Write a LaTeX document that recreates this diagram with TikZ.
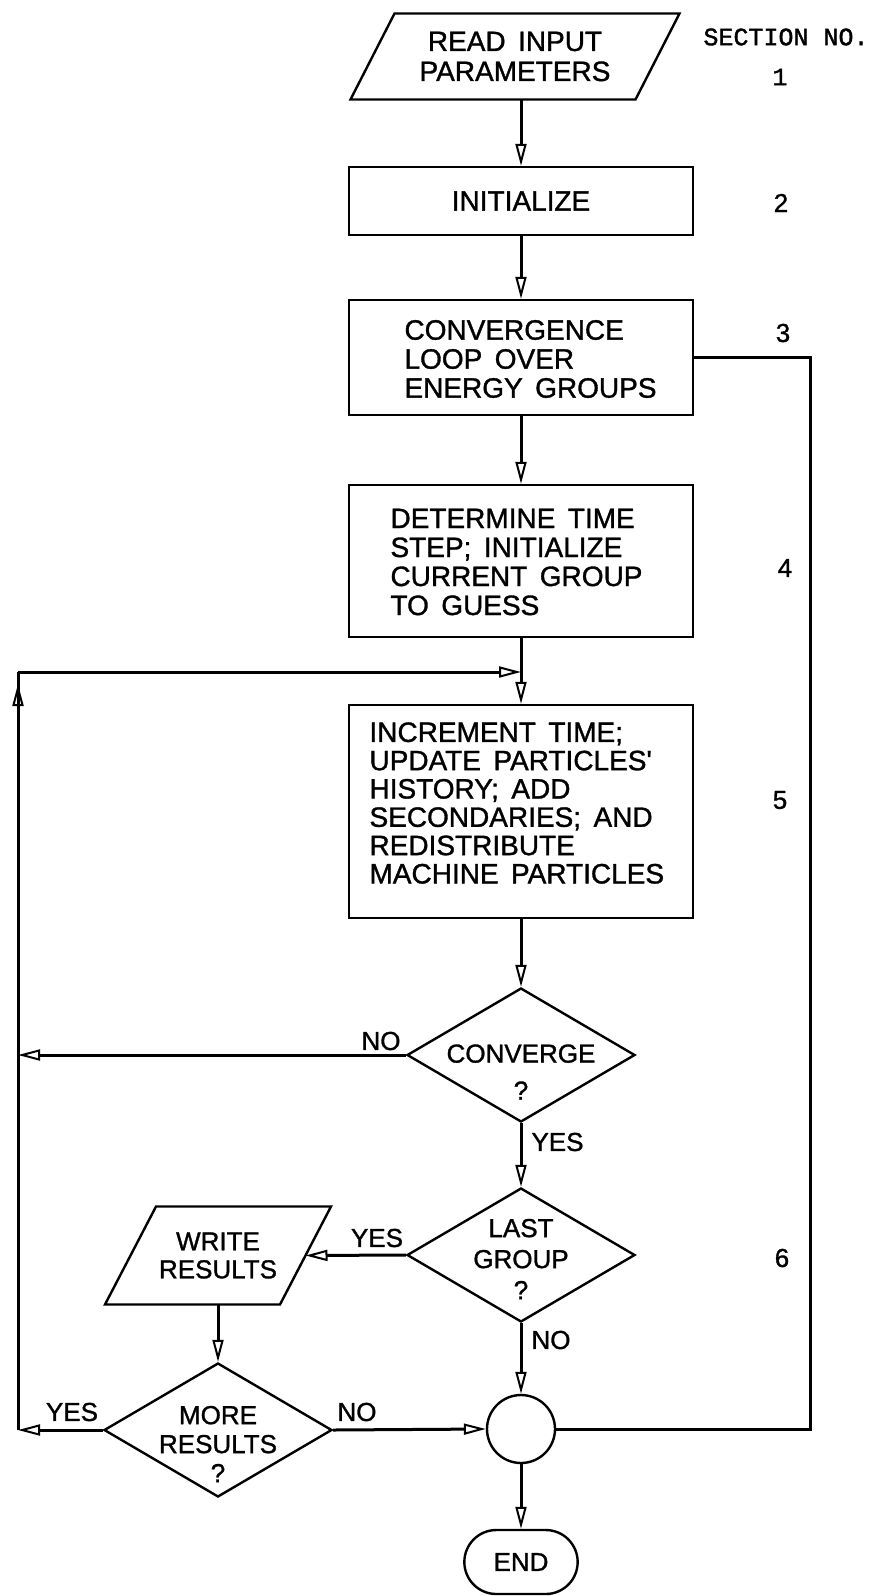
\documentclass[tikz,border=0pt]{standalone}
\usepackage{fontspec}
\setmainfont[WordSpace=1.6,FakeBold=1.2]{Liberation Sans}
\newfontfamily\twfont[FakeBold=1.5]{Liberation Mono}
\usetikzlibrary{arrows.meta,shapes.geometric,shapes.misc}
\begin{document}
\begin{tikzpicture}[x=1pt,y=-1pt,
  line width=3pt,
  arr/.style={-{Triangle[open,length=22pt,width=11pt,line width=2pt]}},
  box/.style={draw, line width=2.4pt, rectangle, minimum width=344pt, inner sep=0pt, font=\fontsize{28}{29}\selectfont},
  txt/.style={font=\fontsize{28}{29}\selectfont, align=left, inner sep=0pt},
  ctxt/.style={align=center, inner sep=0pt},
  dia/.style={draw, line width=2.4pt, diamond, minimum width=228pt, minimum height=134pt, inner sep=0pt},
  lbl/.style={font=\fontsize{26}{26}\selectfont, inner sep=0pt},
  secn/.style={font=\fontsize{26}{26}\selectfont, inner sep=0pt},
  shp/.style={line width=2.4pt},
]
\useasboundingbox (0,0) rectangle (886,1596);

% section labels
\node[font=\twfont\fontsize{25}{25}\selectfont, inner sep=0pt] (secno) at (786,37) {SECTION NO.};
\node[font=\twfont\fontsize{25}{25}\selectfont, inner sep=0pt] (sec1) at (780,77) {1};
\node[secn] (sec2) at (781,203) {2};
\node[secn] (sec3) at (783,333) {3};
\node[secn] (sec4) at (785,568) {4};
\node[secn] (sec5) at (780,800) {5};
\node[secn] (sec6) at (782,1258) {6};

% read input
\node[minimum width=282pt, minimum height=83pt, inner sep=0pt, align=center,
      font=\fontsize{28}{30}\selectfont] (read) at (515,56.5) {READ INPUT\\PARAMETERS};
\draw[shp] ([xshift=22pt]read.north west) -- ([xshift=22pt]read.north east)
  -- ([xshift=-22pt]read.south east) -- ([xshift=-22pt]read.south west) -- cycle;

% boxes
\node[box, minimum height=68pt] (init) at (521,201) {INITIALIZE};
\node[box, minimum height=115pt] (conv) at (521,357.5) {};
\node[txt, anchor=west] (convt) at (403,359) {CONVERGENCE\\LOOP OVER\\ENERGY GROUPS};
\node[box, minimum height=152pt] (det) at (521,561) {};
\node[txt, anchor=west] (dett) at (389,562) {DETERMINE TIME\\STEP; INITIALIZE\\CURRENT GROUP\\TO GUESS};
\node[box, minimum height=213pt] (inc) at (521,811.5) {};
\node[txt, anchor=west, font=\fontsize{28}{28.3}\selectfont] (inct) at (368,803) {INCREMENT TIME;\\UPDATE PARTICLES\textquotesingle\\HISTORY; ADD\\SECONDARIES; AND\\REDISTRIBUTE\\MACHINE PARTICLES};

% decisions
\node[dia] (cvg) at (521,1055) {};
\node[ctxt, font=\fontsize{26}{37}\selectfont] (cvgt) at (521,1072) {CONVERGE\\?};
\node[dia] (last) at (521,1255) {};
\node[ctxt, font=\fontsize{26}{31}\selectfont] (lastt) at (521,1259) {LAST\\GROUP\\?};
\node[dia] (more) at (218,1430) {};
\node[ctxt, font=\fontsize{26}{29}\selectfont] (moret) at (218,1444) {MORE\\RESULTS\\?};

% write results
\node[minimum width=172pt, minimum height=95pt, inner sep=0pt, align=center,
      font=\fontsize{26}{28}\selectfont] (write) at (218,1255.5) {WRITE\\RESULTS};
\draw[shp] ([xshift=25.5pt]write.north west) -- ([xshift=25.5pt]write.north east)
  -- ([xshift=-25.5pt]write.south east) -- ([xshift=-25.5pt]write.south west) -- cycle;

% connector circle and end
\node[draw, shp, circle, minimum size=68pt, inner sep=0pt] (jn) at (521,1429) {};
\node[draw, shp, rounded rectangle, minimum width=120pt, minimum height=64pt,
      font=\fontsize{26}{26}\selectfont] (end) at (521,1562) {END};

% coordinates
\coordinate (LL) at (18,1430);
\coordinate (LT) at (18,672);
\coordinate (J) at (521,672);
\coordinate (R) at (810,357.5);

% connectors
\draw[arr] (read.south -| init.north) -- (init.north);
\draw[arr] (init.south) -- (conv.north);
\draw[arr] (conv.south) -- (det.north);
\draw (det.south) -- (J);
\draw[arr] (J) -- (inc.north);
\draw[arr] (inc.south) -- (cvg.north);
\draw[arr] (cvg.south) -- (last.north);
\draw[arr] (last.south) -- (jn.north);
\draw[arr] (jn.south) -- (end.north);
\draw[arr] (cvg.west) -- (cvg.west -| LL);
\draw[arr] (last.west) -- (write.east);
\draw[arr] (write.south) -- (more.north);
\draw[arr] (more.west) -- (LL);
\draw[arr] (more.east) -- (jn.west);
\draw (LL) -- (LT);
\draw[arr] (LL) -- ([yshift=-12pt]LT);
\draw[arr] (LT) -- (J);
\draw (jn.east) -- (jn.east -| R) -- (R) -- (conv.east);

% branch labels
\node[lbl] (no1) at (381,1041) {NO};
\node[lbl, anchor=west] (yes1) at (530,1142) {YES};
\node[lbl] (yes2) at (377,1238) {YES};
\node[lbl, anchor=west] (no2) at (530,1340) {NO};
\node[lbl] (yes3) at (72,1412) {YES};
\node[lbl] (no3) at (357,1412) {NO};
\end{tikzpicture}
\end{document}
